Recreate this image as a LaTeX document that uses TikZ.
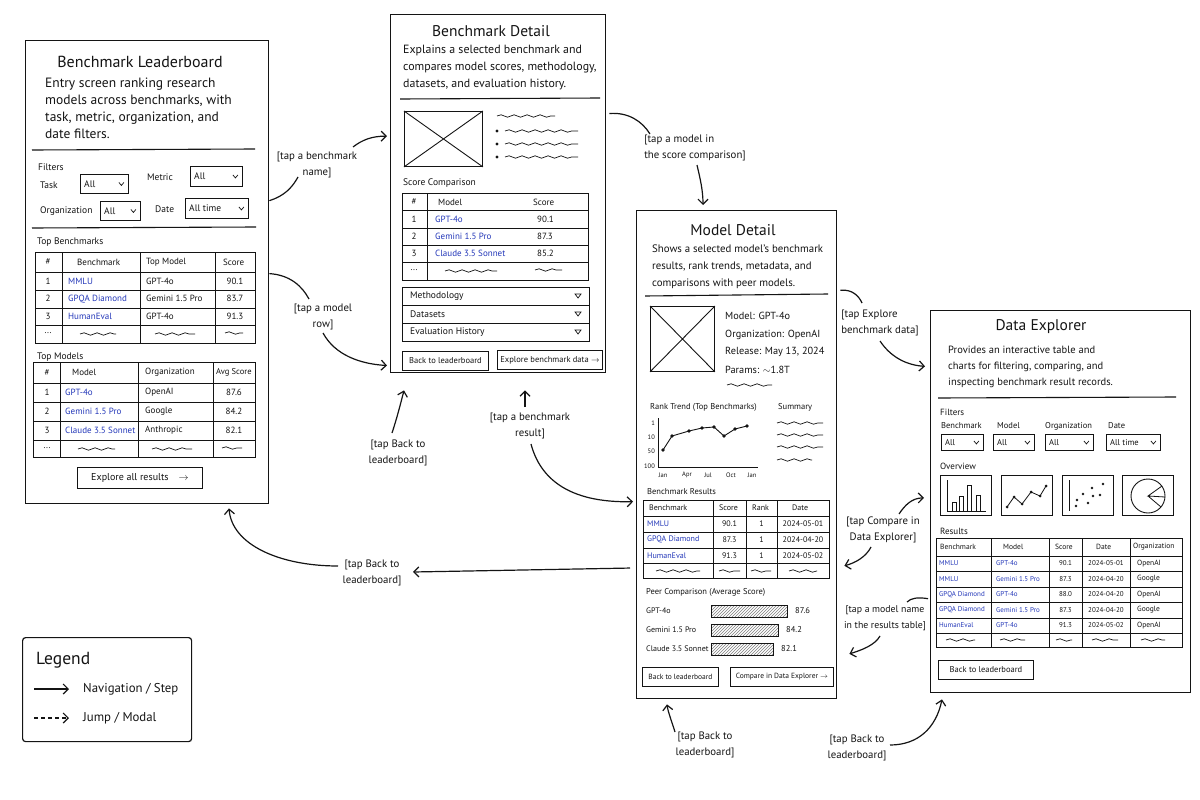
\documentclass[tikz,border=0pt]{standalone}
\usepackage{fontspec}
\setmainfont{PT Sans}
\usepackage{tikz}
\usetikzlibrary{arrows.meta, calc, decorations.pathmorphing, patterns}
\definecolor{linkblue}{RGB}{35,55,185}
\definecolor{ink}{RGB}{20,20,20}

% dropdown: name, x1, y1, x2, y2, text
\newcommand{\dropbox}[6]{%
  \node[dd, minimum width={#4-#2}, minimum height={#5-#3}] (#1) at (#2,#3) {};
  \node[ddtext] (#1-t) at ($(#1.west)+(4,0)$) {#6};
  \draw[line width=0.7pt] ($(#1.east)+(-10,-1.5)$) -- ($(#1.east)+(-7.5,1.5)$) -- ($(#1.east)+(-5,-1.5)$);
}

\begin{document}
\begin{tikzpicture}[x=1pt, y=-1pt, ink,
    screen/.style={draw=ink, line width=1.4pt, anchor=north west, inner sep=0pt, fill=white},
    ttl/.style={font=\fontsize{15.5}{18}\selectfont},
    desc/.style={anchor=north west, align=left, inner sep=0pt, font=\fontsize{10.5}{17}\selectfont},
    sub/.style={anchor=west, inner sep=0pt, font=\fontsize{9.5}{11}\selectfont},
    cell/.style={anchor=west, inner sep=0pt, font=\fontsize{9}{11}\selectfont},
    link/.style={cell, text=linkblue},
    rule/.style={line width=1.1pt},
    grid/.style={line width=0.9pt},
    dd/.style={draw, line width=0.9pt, anchor=north west, inner sep=0pt},
    ddtext/.style={anchor=west, inner sep=0pt, font=\fontsize{9.5}{11}\selectfont},
    btn/.style={draw, line width=0.9pt, anchor=north west, inner sep=0pt, font=\fontsize{8.5}{10}\selectfont},
    imgph/.style={draw, line width=0.9pt, anchor=north west, inner sep=0pt},
    squig/.style={line width=0.7pt, decorate, decoration={snake, amplitude=1.2pt, segment length=13pt}},
    tag/.style={align=center, inner sep=1pt, font=\fontsize{10.8}{16}\selectfont},
    flow/.style={line width=1.2pt, -{Straight Barb[length=5pt, width=10pt]}},
    flowline/.style={line width=1.2pt}
]
\useasboundingbox (0,0) rectangle (1200,800);

% ---------------- Benchmark Leaderboard ----------------
\node[screen, minimum width=243, minimum height=463] (lb) at (25,40) {};
\node[ttl, font=\fontsize{16}{18}\selectfont] (lb-title) at (140,62) {Benchmark Leaderboard};
\node[desc, font=\fontsize{13.5}{17}\selectfont] (lb-desc) at (45,78) {Entry screen ranking research\\models across benchmarks, with\\task, metric, organization, and\\date filters.};
\draw[rule] (32,150) -- (255,149);
\node[sub] (lb-filters) at (38,167) {Filters};
\node[sub] (lb-task) at (40,185) {Task};
\dropbox{lb-dd1}{80}{174}{128}{193}{All}
\node[sub] (lb-metric) at (147,177) {Metric};
\dropbox{lb-dd2}{190}{166}{242}{186}{All}
\node[sub] (lb-org) at (40,211) {Organization};
\dropbox{lb-dd3}{100}{201}{140}{220}{All}
\node[sub] (lb-date) at (155,209) {Date};
\dropbox{lb-dd4}{185}{198}{248}{218}{All time}
\draw[rule] (32,228) -- (256,227);

\node[sub] (lb-topb) at (37,242) {Top Benchmarks};
\draw[grid] (35,252) rectangle (255,343);
\foreach \cx in {62,140,215} \draw[grid] (\cx,252) -- (\cx,343);
\foreach \ry in {272,290,308,325} \draw[grid] (35,\ry) -- (255,\ry);
\node[cell, anchor=center] (lbb-h1) at (48,262) {\#};
\node[cell] (lbb-h2) at (77,262) {Benchmark};
\node[cell] (lbb-h3) at (146,262) {Top Model};
\node[cell] (lbb-h4) at (223,262) {Score};
\foreach \n/\bm/\tm/\sc [count=\i] in {1/MMLU/GPT-4o/90.1, 2/GPQA Diamond/Gemini 1.5 Pro/83.7, 3/HumanEval/GPT-4o/91.3} {
  \pgfmathsetmacro{\ry}{281+17.75*(\i-1)}
  \node[cell, anchor=center] (lbb-n\i) at (48,\ry) {\n};
  \node[link] (lbb-b\i) at (68,\ry) {\bm};
  \node[cell] (lbb-m\i) at (146,\ry) {\tm};
  \node[cell, anchor=center] (lbb-s\i) at (235,\ry) {\sc};
}
\node[cell, anchor=center] (lbb-n4) at (48,333) {...};
\draw[squig] (80,334) -- (116,334);
\draw[squig] (155,334) -- (195,334);
\draw[squig] (225,333) -- (243,333);

\node[sub] (lb-topm) at (37,357) {Top Models};
\draw[grid] (33,362) rectangle (255,457);
\foreach \cx in {60,138,213} \draw[grid] (\cx,362) -- (\cx,457);
\foreach \ry in {383,402,421,440} \draw[grid] (33,\ry) -- (255,\ry);
\node[cell, anchor=center] (lbm-h1) at (47,372.5) {\#};
\node[cell] (lbm-h2) at (72,372.5) {Model};
\node[cell] (lbm-h3) at (145,372.5) {Organization};
\node[cell, font=\fontsize{8.5}{10}\selectfont] (lbm-h4) at (216,372.5) {Avg Score};
\foreach \n/\mo/\og/\sc [count=\i] in {1/GPT-4o/OpenAI/87.6, 2/Gemini 1.5 Pro/Google/84.2, 3/Claude 3.5 Sonnet/Anthropic/82.1} {
  \pgfmathsetmacro{\ry}{392.5+19*(\i-1)}
  \node[cell, anchor=center] (lbm-n\i) at (47,\ry) {\n};
  \node[link] (lbm-m\i) at (65,\ry) {\mo};
  \node[cell] (lbm-o\i) at (145,\ry) {\og};
  \node[cell, anchor=center] (lbm-s\i) at (234,\ry) {\sc};
}
\node[cell, anchor=center] (lbm-n4) at (47,448) {...};
\draw[squig] (78,449) -- (115,449);
\draw[squig] (152,449) -- (192,449);
\draw[squig] (222,448) -- (242,448);
\node[btn, minimum width=125, minimum height=21, font=\fontsize{10}{12}\selectfont] (lb-explore) at (77,467) {Explore all results\quad$\rightarrow$};

% ---------------- Benchmark Detail ----------------
\node[screen, minimum width=215, minimum height=358] (bd) at (390,14) {};
\node[ttl] (bd-title) at (491,31) {Benchmark Detail};
\node[desc, font=\fontsize{11.9}{17}\selectfont] (bd-desc) at (403,45) {Explains a selected benchmark and\\compares model scores, methodology,\\datasets, and evaluation history.};
\draw[rule] (400,99) -- (600,98);
\node[imgph, minimum width=78, minimum height=55] (bd-img) at (404,111) {};
\draw[grid] (bd-img.north west) -- (bd-img.south east) (bd-img.north east) -- (bd-img.south west);
\draw[squig] (497,116) -- (555,116);
\foreach \by in {131,144,157} {
  \fill (497,\by) circle (1.6);
  \draw[squig] (505,\by) -- (578,\by);
}
\node[sub] (bd-sc) at (403,183) {Score Comparison};
\draw[grid] (402,193) rectangle (588,280);
\draw[grid] (427,193) -- (427,280);
\foreach \ry in {210,228,245,262} \draw[grid] (402,\ry) -- (588,\ry);
\node[cell, anchor=center] (bds-h1) at (414,202) {\#};
\node[cell] (bds-h2) at (438,202) {Model};
\node[cell] (bds-h3) at (533,202) {Score};
\foreach \n/\mo/\sc [count=\i] in {1/GPT-4o/90.1, 2/Gemini 1.5 Pro/87.3, 3/Claude 3.5 Sonnet/85.2} {
  \pgfmathsetmacro{\ry}{219+17.3*(\i-1)}
  \node[cell, anchor=center] (bds-n\i) at (414,\ry) {\n};
  \node[link] (bds-m\i) at (435,\ry) {\mo};
  \node[cell] (bds-s\i) at (537,\ry) {\sc};
}
\node[cell, anchor=center] (bds-n4) at (414,270) {...};
\draw[squig] (445,271) -- (497,271);
\draw[squig] (535,270) -- (562,270);
\draw[grid] (402,287) rectangle (589,341);
\draw[grid] (402,305) -- (589,305) (402,323) -- (589,323);
\foreach \t/\ay [count=\i] in {Methodology/296, Datasets/314, Evaluation History/332} {
  \node[sub] (bd-acc\i) at (410,\ay) {\t};
  \draw[line width=0.7pt] (575,{\ay-2}) -- (581,{\ay-2}) -- (578,{\ay+2}) -- cycle;
}
\node[btn, minimum width=86, minimum height=19] (bd-back) at (402,351) {Back to leaderboard};
\node[btn, minimum width=105, minimum height=19] (bd-explore) at (497,350) {Explore benchmark data $\rightarrow$};

% ---------------- Model Detail ----------------
\node[screen, minimum width=200, minimum height=488] (md) at (636,210) {};
\node[ttl] (md-title) at (733,230) {Model Detail};
\node[desc, font=\fontsize{10.8}{17}\selectfont] (md-desc) at (652,245) {Shows a selected model's benchmark\\results, rank trends, metadata, and\\comparisons with peer models.};
\draw[rule] (645,296) -- (828,294);
\node[imgph, minimum width=64, minimum height=65] (md-img) at (650,306) {};
\draw[grid] (md-img.north west) -- (md-img.south east) (md-img.north east) -- (md-img.south west);
\node[sub, font=\fontsize{10.3}{12}\selectfont] (md-m1) at (725,316) {Model: GPT-4o};
\node[sub, font=\fontsize{10.3}{12}\selectfont] (md-m2) at (725,335) {Organization: OpenAI};
\node[sub, font=\fontsize{10.3}{12}\selectfont] (md-m3) at (725,352) {Release: May 13, 2024};
\node[sub, font=\fontsize{10.3}{12}\selectfont] (md-m4) at (725,370) {Params: $\sim$1.8T};
\draw[squig] (727,385) -- (772,385);
\node[sub, font=\fontsize{8.5}{10}\selectfont] (md-rank) at (650,407) {Rank Trend (Top Benchmarks)};
\node[sub, font=\fontsize{8.5}{10}\selectfont] (md-sum) at (778,407) {Summary};
\draw[grid] (658,418) -- (658,467) -- (758,467);
\foreach \yl/\yy in {1/423, 10/437, 50/451, 100/466}
  \node[cell, anchor=east, font=\fontsize{6.5}{8}\selectfont] (md-y\yl) at (655,\yy) {\yl};
\foreach \xl/\xx [count=\i] in {Jan/663, Apr/687, Jul/708, Oct/731, Jan/752}
  \node[cell, anchor=center, font=\fontsize{6.5}{8}\selectfont] (md-x\i) at (\xx,475) {\xl};
\draw[line width=0.9pt] plot coordinates {(663,450) (672,436) (689,431) (702,428) (714,427) (724,436) (735,429) (747,426)};
\foreach \px/\py in {663/450, 672/436, 689/431, 702/428, 714/427, 724/436, 735/429, 747/426}
  \fill (\px,\py) circle (1.8);
\foreach \sy in {423,435,447} \draw[squig] (777,\sy) -- (823,\sy);
\draw[squig] (777,460) -- (812,460);

\node[sub, font=\fontsize{8.5}{10}\selectfont] (md-res) at (647,492) {Benchmark Results};
\draw[grid] (643,500) rectangle (829,578);
\foreach \cx in {713,746,777} \draw[grid] (\cx,500) -- (\cx,578);
\foreach \ry in {516,532,548,563} \draw[grid] (643,\ry) -- (829,\ry);
\node[cell, font=\fontsize{8}{10}\selectfont] (mdr-h1) at (649,508) {Benchmark};
\node[cell, font=\fontsize{8}{10}\selectfont] (mdr-h2) at (719,508) {Score};
\node[cell, font=\fontsize{8}{10}\selectfont] (mdr-h3) at (752,508) {Rank};
\node[cell, font=\fontsize{8}{10}\selectfont] (mdr-h4) at (792,508) {Date};
\foreach \bm/\sc/\rk/\dt [count=\i] in {MMLU/90.1/1/2024-05-01, GPQA Diamond/87.3/1/2024-04-20, HumanEval/91.3/1/2024-05-02} {
  \pgfmathsetmacro{\ry}{524+15.8*(\i-1)}
  \node[link, font=\fontsize{8}{10}\selectfont] (mdr-b\i) at (647,\ry) {\bm};
  \node[cell, anchor=center, font=\fontsize{8}{10}\selectfont] (mdr-s\i) at (729.5,\ry) {\sc};
  \node[cell, anchor=center, font=\fontsize{8}{10}\selectfont] (mdr-r\i) at (761.5,\ry) {\rk};
  \node[cell, anchor=center, font=\fontsize{8}{10}\selectfont] (mdr-d\i) at (803,\ry) {\dt};
}
\draw[squig] (656,571) -- (700,571);
\draw[squig] (719,571) -- (740,571);
\draw[squig] (751,571) -- (771,571);
\draw[squig] (789,571) -- (817,571);

\node[sub, font=\fontsize{8.5}{10}\selectfont] (md-peer) at (646,592) {Peer Comparison (Average Score)};
\foreach \mo/\by/\bx/\sc [count=\i] in {GPT-4o/611/787/87.6, Gemini 1.5 Pro/630/778/84.2, Claude 3.5 Sonnet/649/773/82.1} {
  \node[cell, font=\fontsize{8}{10}\selectfont] (mdp-m\i) at (646,\by) {\mo};
  \draw[line width=0.8pt, pattern=north east lines, pattern color=gray] (711,{\by-6}) rectangle (\bx,{\by+6});
  \node[cell, font=\fontsize{8.5}{10}\selectfont] (mdp-s\i) at ({\bx+8},\by) {\sc};
}
\node[btn, minimum width=76, minimum height=19, font=\fontsize{7.5}{9}\selectfont] (md-back) at (642,667) {Back to leaderboard};
\node[btn, minimum width=103, minimum height=19, font=\fontsize{7.5}{9}\selectfont] (md-compare) at (730,667) {Compare in Data Explorer $\rightarrow$};

% ---------------- Data Explorer ----------------
\node[screen, minimum width=260, minimum height=382] (de) at (930,310) {};
\node[ttl] (de-title) at (1041,327) {Data Explorer};
\node[desc, font=\fontsize{10.5}{16}\selectfont] (de-desc) at (948,346) {Provides an interactive table and\\charts for filtering, comparing, and\\inspecting benchmark result records.};
\draw[rule] (938,398) -- (1176,397);
\node[sub, font=\fontsize{9}{10}\selectfont] (de-filters) at (940,412) {Filters};
\foreach \fl/\fx [count=\i] in {Benchmark/941, Model/997, Organization/1045, Date/1108}
  \node[sub, font=\fontsize{8.5}{10}\selectfont] (de-fl\i) at (\fx,426) {\fl};
\begin{scope}[ddtext/.append style={font=\fontsize{8.5}{10}\selectfont}]
\dropbox{de-dd1}{941}{434}{983}{450}{All}
\dropbox{de-dd2}{993}{434}{1034}{450}{All}
\dropbox{de-dd3}{1045}{434}{1093}{450}{All}
\dropbox{de-dd4}{1106}{434}{1160}{450}{All time}
\end{scope}
\node[sub, font=\fontsize{9}{10}\selectfont] (de-ov) at (940,466) {Overview};
\foreach \tx [count=\i] in {940,1001,1062,1122}
  \node[imgph, minimum width=51, minimum height=40] (de-ov\i) at (\tx,475) {};
% bar chart thumbnail
\draw[grid] (947,480) -- (947,511) -- (986,511);
\foreach \bx/\bt in {952/502, 959/496, 967/485, 976/495}
  \draw[line width=0.7pt] (\bx,\bt) rectangle ({\bx+4},511);
% line chart thumbnail
\draw[line width=0.8pt] plot coordinates {(1007,507) (1014,497) (1022,504) (1031,492) (1040,496) (1046,486)};
\foreach \px/\py in {1007/507, 1014/497, 1022/504, 1031/492, 1040/496, 1046/486}
  \fill (\px,\py) circle (1.5);
% scatter thumbnail
\draw[grid] (1069,480) -- (1069,511);
\foreach \px/\py in {1076/506, 1077/500, 1083/494, 1088/503, 1092/488, 1093/496, 1100/495, 1103/484}
  \fill (\px,\py) circle (1.4);
% pie thumbnail
\draw[grid] (1148,496) circle (17);
\draw[line width=0.8pt] (1162,486) -- (1148,496) -- (1165,497) (1148,496) -- (1161,507);

\node[sub, font=\fontsize{9}{10}\selectfont] (de-results) at (940,531) {Results};
\draw[grid] (936,538) rectangle (1182,647);
\foreach \cx in {991,1049,1082,1130} \draw[grid] (\cx,538) -- (\cx,647);
\foreach \ry in {556,571,587,602,618,633} \draw[grid] (936,\ry) -- (1182,\ry);
\foreach \hl/\hx [count=\i] in {Benchmark/940, Model/1003, Score/1055, Date/1096, Organization/1133}
  \node[cell, font=\fontsize{7.5}{9}\selectfont] (der-h\i) at (\hx,547) {\hl};
\foreach \bm/\mo/\sc/\dt/\og [count=\i] in {MMLU/GPT-4o/90.1/2024-05-01/OpenAI, MMLU/Gemini 1.5 Pro/87.3/2024-04-20/Google, GPQA Diamond/GPT-4o/88.0/2024-04-20/OpenAI, GPQA Diamond/Gemini 1.5 Pro/87.3/2024-04-20/Google, HumanEval/GPT-4o/91.3/2024-05-02/OpenAI} {
  \pgfmathsetmacro{\ry}{563.5+15.5*(\i-1)}
  \node[link, font=\fontsize{7}{9}\selectfont] (der-b\i) at (939,\ry) {\bm};
  \node[link, font=\fontsize{7}{9}\selectfont] (der-m\i) at (996,\ry) {\mo};
  \node[cell, anchor=center, font=\fontsize{7}{9}\selectfont] (der-s\i) at (1065.5,\ry) {\sc};
  \node[cell, anchor=center, font=\fontsize{7}{9}\selectfont] (der-d\i) at (1106,\ry) {\dt};
  \node[cell, font=\fontsize{7.5}{9}\selectfont] (der-o\i) at (1137,\ry) {\og};
}
\draw[squig] (946,640) -- (975,640);
\draw[squig] (1000,640) -- (1025,640);
\draw[squig] (1056,640) -- (1072,640);
\draw[squig] (1092,640) -- (1118,640);
\draw[squig] (1141,640) -- (1165,640);
\node[btn, minimum width=95, minimum height=19, font=\fontsize{8.5}{10}\selectfont] (de-back) at (938,660) {Back to leaderboard};

% ---------------- Legend ----------------
\node[draw, line width=1.2pt, rounded corners=3pt, anchor=north west, minimum width=169, minimum height=104] (legend) at (22,637) {};
\node[anchor=west, inner sep=0pt, font=\fontsize{17.5}{20}\selectfont] (legend-title) at (36,660) {Legend};
\coordinate (lg-a1) at (34,689);
\coordinate (lg-b1) at (69,689);
\coordinate (lg-a2) at (34,718);
\coordinate (lg-b2) at (69,718);
\draw[flow] (lg-a1) -- (lg-b1);
\draw[flow, dash pattern=on 4pt off 3pt] (lg-a2) -- (lg-b2);
\node[anchor=west, inner sep=0pt, font=\fontsize{12.8}{15}\selectfont] (lg-nav) at (83,689) {Navigation / Step};
\node[anchor=west, inner sep=0pt, font=\fontsize{12.8}{15}\selectfont] (lg-jump) at (83,718) {Jump / Modal};

% ---------------- Connectors ----------------
\node[tag] (t-bench) at (317,165) {[tap a benchmark\\name]};
\draw[flowline] ($(lb.north east)!0.346!(lb.south east)$) .. controls (284,196) and (292,188) .. ($(t-bench)+(-19,12)$);
\draw[flow] ($(t-bench)+(36,-18)$) .. controls (362,140) and (372,136) .. ($(bd.north west)!0.34!(bd.south west)+(-3,0)$);

\node[tag] (t-row) at (323,317) {[tap a model\\row]};
\draw[flowline] ($(lb.north east)!0.503!(lb.south east)$) .. controls (290,275) and (302,286) .. ($(t-row)+(-14,-18)$);
\draw[flow] ($(t-row)+(0,16)$) .. controls (335,355) and (360,364) .. ($(bd.north west)!0.978!(bd.south west)+(-3,0)$);

\node[tag] (t-back1) at (398,453) {[tap Back to\\leaderboard]};
\draw[flow] ($(t-back1)+(-6,-20)$) .. controls (397,418) and (401,402) .. ($(bd.south west)+(14,17)$);

\node[tag] (t-result) at (530,426) {[tap a benchmark\\result]};
\draw[flow] ($(t-result)+(-5,-19)$) -- ($(bd.south west)+(135,17)$);
\draw[flow] ($(t-result)+(1,18)$) .. controls (540,478) and (568,503) .. ($(md.north west)!0.596!(md.south west)+(-3,0)$);

\node[tag, align=left] (t-score) at (695,148) {[tap a model in\\the score comparison]};
\draw[flowline] ($(bd.north east)!0.277!(bd.south east)+(3,0)$) .. controls (628,112) and (642,121) .. ($(t-score)+(-45,-14)$);
\draw[flow] ($(t-score)+(2,17)$) .. controls (700,178) and (703,190) .. ($(md.north west)+(67,-5)$);

\node[tag, align=left] (t-explore) at (880,323) {[tap Explore\\benchmark data]};
\draw[flowline] ($(md.north east)!0.164!(md.south east)+(3,0)$) .. controls (852,289) and (859,296) .. ($(t-explore)+(-18,-20)$);
\draw[flow] ($(t-explore)+(0,18)$) .. controls (890,356) and (905,365) .. ($(de.north west)!0.147!(de.south west)+(-5,0)$);

\node[tag] (t-compare) at (883,530) {[tap Compare in\\Data Explorer]};
\draw[flow] ($(t-compare)+(16,-16)$) .. controls (905,505) and (912,498) .. ($(de.north west)!0.49!(de.south west)+(-6,0)$);
\draw[flow] ($(t-compare)+(-12,17)$) .. controls (866,557) and (855,563) .. ($(md.north east)!0.727!(md.south east)+(7,0)$);

\node[tag, font=\fontsize{9.8}{16}\selectfont] (t-mname) at (885,618) {[tap a model name\\in the results table]};
\draw[flowline] ($(de.north west)!0.753!(de.south west)+(-2,0)$) .. controls (918,597) and (911,598) .. ($(t-mname)+(22,-16)$);
\draw[flow] ($(t-mname)+(-5,18)$) .. controls (875,645) and (862,650) .. ($(md.north east)!0.907!(md.south east)+(12,0)$);

\node[tag] (t-back2) at (705,745) {[tap Back to\\leaderboard]};
\draw[flow] ($(t-back2)+(-30,-13)$) .. controls (672,722) and (668,712) .. ($(md.south west)+(31,5)$);

\node[tag] (t-back3) at (857,748) {[tap Back to\\leaderboard]};
\draw[flow] ($(t-back3)+(33,-3)$) .. controls (918,745) and (936,728) .. ($(de.south west)+(12,6)$);

\node[tag] (t-back4) at (372,573) {[tap Back to\\leaderboard]};
\draw[flow] ($(md.north west)!0.7316!(md.south west)+(-6,0)$) -- ($(t-back4)+(41,-1)$);
\draw[flow] ($(t-back4)+(-34,-7)$) .. controls (280,566) and (232,545) .. ($(lb.south west)+(204,4)$);
\end{tikzpicture}
\end{document}
